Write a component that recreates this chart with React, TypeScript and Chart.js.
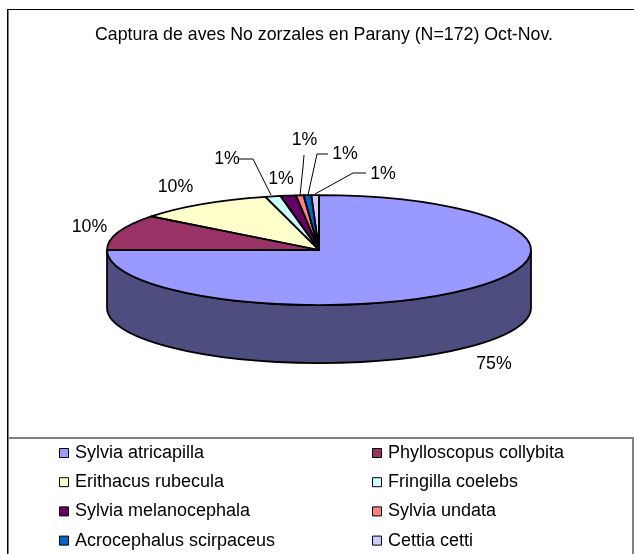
import React, { useEffect, useRef } from "react";
import { Chart, registerables } from "chart.js";

Chart.register(...registerables);

const TITLE = "Captura de aves No zorzales en Parany (N=172) Oct-Nov.";
const species = [
  "Sylvia atricapilla",
  "Phylloscopus collybita",
  "Erithacus rubecula",
  "Fringilla coelebs",
  "Sylvia melanocephala",
  "Sylvia undata",
  "Acrocephalus scirpaceus",
  "Cettia cetti",
];
const captures = [129, 18, 18, 2, 2, 1, 1, 1];
const colors = ["#9999FF", "#993366", "#FFFFCC", "#CCFFFF", "#660066", "#FF8080", "#0066CC", "#CCCCFF"];

const FONT = "17.75px 'Liberation Sans', Arial, sans-serif";
const LEGEND_FONT = "18px 'Liberation Sans', Arial, sans-serif";
const CX = 319, CY = 250, RX = 212, RY = 55, DEPTH = 58;

// label placement for each slice: text centre, then optional leader polyline
const labelLayout: { x: number; y: number; leader?: number[][] }[] = [
  { x: 494, y: 364 },
  { x: 89.5, y: 227 },
  { x: 175.5, y: 187 },
  { x: 227, y: 159, leader: [[238, 159], [253, 159], [271, 195]] },
  { x: 281, y: 179 },
  { x: 304.5, y: 140, leader: [[304, 155], [303, 167], [300, 195]] },
  { x: 345, y: 154, leader: [[328, 154], [317, 154], [308, 195]] },
  { x: 383, y: 174, leader: [[366, 173], [353, 173], [315, 194]] },
];

const darken = (hex: string) => {
  const n = parseInt(hex.slice(1), 16);
  const c = [(n >> 16) & 255, (n >> 8) & 255, n & 255].map((v) => Math.round(v / 2));
  return `rgb(${c[0]},${c[1]},${c[2]})`;
};

const pie3d = {
  id: "pie3d",
  beforeDraw(chart: any) {
    const { ctx, width, height } = chart;
    ctx.save();
    ctx.fillStyle = "#fff";
    ctx.fillRect(0, 0, width, height);
    // outer frame
    ctx.fillStyle = "#000";
    ctx.fillRect(7, 9, width - 7, 1);
    ctx.fillRect(7, 9, 1, height - 9);
    ctx.fillStyle = "#808080";
    ctx.fillRect(8, 10, 1, height - 10);
    // legend frame
    ctx.fillRect(8, 437, width - 9, 2);
    ctx.fillRect(632, 437, 2, height - 437);
    ctx.restore();
  },
  beforeDatasetDraw(chart: any) {
    const { ctx } = chart;
    const arcs = chart.getDatasetMeta(0).data;
    const norm = Math.PI * 2;
    ctx.save();
    ctx.lineWidth = 1.75;
    ctx.strokeStyle = "#000";
    arcs.forEach((a: any, i: number) => {
      const s = Math.max(a.startAngle, 0);
      const e = Math.min(a.endAngle, Math.PI);
      if (e <= s || e > norm) return;
      ctx.beginPath();
      ctx.ellipse(CX, CY, RX, RY, 0, s, e);
      ctx.ellipse(CX, CY + DEPTH, RX, RY, 0, e, s, true);
      ctx.closePath();
      ctx.fillStyle = darken(colors[i]);
      ctx.fill();
      ctx.stroke();
    });
    ctx.restore();
    // flatten the library's circular pie into the tilted disc
    const first = arcs[0];
    ctx.save();
    ctx.translate(CX, CY);
    ctx.scale(1, RY / RX);
    ctx.translate(-first.x, -first.y);
  },
  afterDatasetDraw(chart: any) {
    const { ctx } = chart;
    ctx.restore();
    const arcs = chart.getDatasetMeta(0).data;
    ctx.save();
    ctx.lineWidth = 1.75;
    ctx.strokeStyle = "#000";
    ctx.lineJoin = "round";
    arcs.forEach((a: any) => {
      ctx.beginPath();
      ctx.moveTo(CX, CY);
      ctx.ellipse(CX, CY, RX, RY, 0, a.startAngle, a.endAngle);
      ctx.closePath();
      ctx.stroke();
    });
    // data labels
    const total = captures.reduce((p, v) => p + v, 0);
    ctx.font = FONT;
    ctx.fillStyle = "#000";
    ctx.textAlign = "center";
    ctx.textBaseline = "middle";
    captures.forEach((v, i) => {
      const l = labelLayout[i];
      ctx.fillText(`${Math.round((v / total) * 100)}%`, l.x, l.y);
      if (l.leader) {
        ctx.lineWidth = 1;
        ctx.beginPath();
        l.leader.forEach(([x, y], k) => (k ? ctx.lineTo(x, y) : ctx.moveTo(x, y)));
        ctx.stroke();
      }
    });
    // legend
    ctx.textAlign = "left";
    ctx.font = LEGEND_FONT;
    species.forEach((name, i) => {
      const col = i % 2;
      const row = Math.floor(i / 2);
      const mx = col ? 372 : 59;
      const ty = 453 + row * 29.2;
      ctx.fillStyle = colors[i];
      ctx.fillRect(mx + 0.5, ty - 4.5, 9, 9);
      ctx.lineWidth = 1;
      ctx.strokeStyle = "#000";
      ctx.strokeRect(mx + 0.5, ty - 4.5, 9, 9);
      ctx.fillStyle = "#000";
      ctx.fillText(name, mx + 16, ty);
    });
    ctx.restore();
  },
};

export default function App() {
  const ref = useRef<HTMLCanvasElement>(null);
  useEffect(() => {
    document.body.style.margin = "0";
    const chart = new Chart(ref.current!, {
      type: "pie",
      data: {
        labels: species,
        datasets: [
          { data: captures, backgroundColor: colors, borderWidth: 0, clip: false } as any,
        ],
      },
      options: {
        animation: false,
        responsive: false,
        radius: RX,
        layout: { padding: { left: 14, top: 24, bottom: 60 } },
        plugins: {
          legend: { display: false },
          tooltip: { enabled: false },
          title: {
            display: true,
            text: TITLE,
            color: "#000",
            font: { family: "'Liberation Sans', Arial, sans-serif", size: 17.75, weight: "normal" },
            padding: { top: 0, bottom: 0 },
          },
        },
      } as any,
      plugins: [pie3d],
    });
    return () => chart.destroy();
  }, []);
  return <canvas ref={ref} width={634} height={554} style={{ display: "block" }} />;
}
